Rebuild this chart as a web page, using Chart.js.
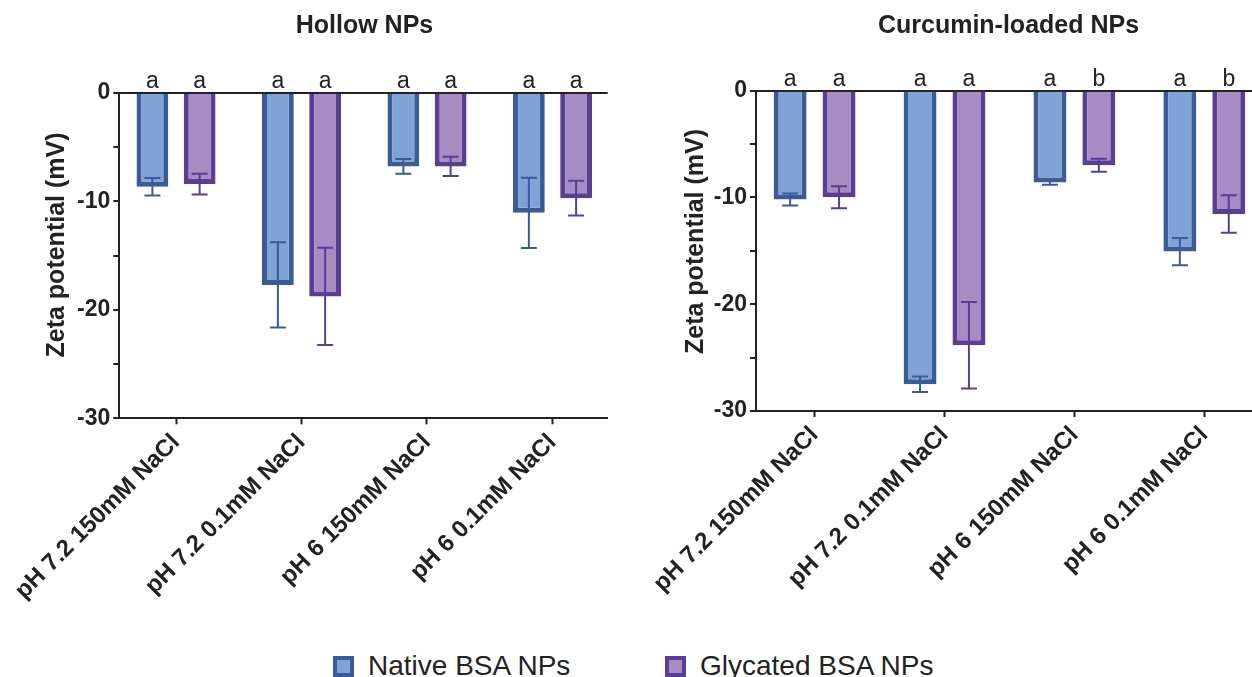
<!DOCTYPE html>
<html>
<head>
<meta charset="utf-8">
<script src="https://cdn.jsdelivr.net/npm/chart.js@4.4.1/dist/chart.umd.min.js"></script>
<style>
  html, body { margin: 0; padding: 0; background: #fff; }
  body { width: 1252px; height: 677px; position: relative; overflow: hidden;
         font-family: "Liberation Sans", Arial, Helvetica, sans-serif; }
  #c1 { position: absolute; left: 0; top: 0; }
  #c2 { position: absolute; left: 620px; top: 0; }
  .leg { position: absolute; top: 652px; height: 28px; display: flex; align-items: center;
         font-size: 28px; color: #222; white-space: nowrap; }
  .box { width: 13px; height: 13px; border: 4px solid; margin-right: 14px; }
</style>
</head>
<body>
<canvas id="c1" width="620" height="640"></canvas>
<canvas id="c2" width="632" height="640"></canvas>
<div class="leg" style="left:333px"><span class="box" style="background:#80A3D7;border-color:#3A5B98"></span><span id="lg1"></span></div>
<div class="leg" style="left:665px"><span class="box" style="background:#A78BC3;border-color:#5A3E93"></span><span id="lg2"></span></div>
<script>
// ---------- data ----------
const categories = ['pH 7.2 150mM NaCl', 'pH 7.2 0.1mM NaCl', 'pH 6 150mM NaCl', 'pH 6 0.1mM NaCl'];
const seriesNames = ['Native BSA NPs', 'Glycated BSA NPs'];
const panelTitles = ['Hollow NPs', 'Curcumin-loaded NPs'];
const yAxisTitle = 'Zeta potential (mV)';

const hollowNative = [-8.65, -17.7, -6.77, -11.05];
const hollowNativeErr = [0.8, 3.93, 0.68, 3.24];
const hollowGlycated = [-8.4, -18.76, -6.77, -9.7];
const hollowGlycatedErr = [0.95, 4.49, 0.88, 1.6];

const curcNative = [-10.2, -27.5, -8.6, -15.07];
const curcNativeErr = [0.56, 0.73, 0.2, 1.27];
const curcGlycated = [-9.98, -23.84, -6.98, -11.55];
const curcGlycatedErr = [1.02, 4.06, 0.6, 1.75];

const hollowLettersNative = ['a', 'a', 'a', 'a'];
const hollowLettersGlycated = ['a', 'a', 'a', 'a'];
const curcLettersNative = ['a', 'a', 'a', 'a'];
const curcLettersGlycated = ['a', 'a', 'b', 'b'];

const yTickValues = [0, -10, -20, -30];

// ---------- styling ----------
const FONT = '"Liberation Sans", Arial, Helvetica, sans-serif';
const INK = '#222222';
const nativeFill = '#80A3D7', nativeBorder = '#3A5B98';
const glycFill = '#A78BC3', glycBorder = '#5A3E93';

document.getElementById('lg1').textContent = seriesNames[0];
document.getElementById('lg2').textContent = seriesNames[1];

const toXY = arr => arr.map((v, i) => ({ x: i, y: v }));

const decor = {
  id: 'decor',
  afterDatasetsDraw(chart) {
    const ctx = chart.ctx, ys = chart.scales.y;
    chart.data.datasets.forEach((ds, di) => {
      const meta = chart.getDatasetMeta(di);
      meta.data.forEach((bar, i) => {
        const v = ds.data[i].y, e = ds.errors[i];
        const yA = ys.getPixelForValue(v + e), yB = ys.getPixelForValue(v - e);
        ctx.save();
        ctx.strokeStyle = ds.borderColor;
        ctx.lineWidth = 2;
        ctx.beginPath();
        ctx.moveTo(bar.x, yA); ctx.lineTo(bar.x, yB);
        ctx.moveTo(bar.x - 8, yA); ctx.lineTo(bar.x + 8, yA);
        ctx.moveTo(bar.x - 8, yB); ctx.lineTo(bar.x + 8, yB);
        ctx.stroke();
        ctx.fillStyle = INK;
        ctx.font = '23px ' + FONT;
        ctx.textAlign = 'center';
        ctx.textBaseline = 'alphabetic';
        ctx.fillText(ds.letters[i], bar.x, chart.chartArea.top - 5);
        ctx.restore();
      });
    });
  },
  afterDraw(chart, args, opts) {
    const ctx = chart.ctx;
    ctx.save();
    ctx.fillStyle = INK;
    ctx.font = 'bold 25px ' + FONT;
    ctx.textAlign = 'center';
    ctx.textBaseline = 'middle';
    ctx.fillText(opts.title, opts.titleX, opts.titleY);
    ctx.translate(opts.yTitleX, opts.yTitleY);
    ctx.rotate(-Math.PI / 2);
    ctx.fillText(opts.yTitle, 0, 0);
    ctx.restore();
  }
};

function makePanel(id, nat, natErr, gly, glyErr, letN, letG, cfg) {
  return new Chart(document.getElementById(id), {
    type: 'bar',
    data: {
      datasets: [
        { label: seriesNames[0], data: toXY(nat), errors: natErr, letters: letN,
          backgroundColor: nativeFill, borderColor: nativeBorder, borderWidth: 5, borderSkipped: 'start' },
        { label: seriesNames[1], data: toXY(gly), errors: glyErr, letters: letG,
          backgroundColor: glycFill, borderColor: glycBorder, borderWidth: 5, borderSkipped: 'start' }
      ]
    },
    options: {
      responsive: false,
      animation: false,
      devicePixelRatio: 1,
      categoryPercentage: 0.753,
      barPercentage: 0.673,
      layout: { padding: { top: cfg.top, right: cfg.right, left: 0, bottom: 0 } },
      plugins: {
        legend: { display: false },
        tooltip: { enabled: false },
        decor: { title: cfg.title, titleX: cfg.titleX, titleY: 26,
                 yTitle: yAxisTitle, yTitleX: cfg.yTitleX, yTitleY: cfg.yTitleY }
      },
      scales: {
        x: {
          type: 'linear', min: cfg.xmin, max: cfg.xmax, offset: false,
          grid: { display: true, offset: false, drawOnChartArea: false, drawTicks: true, tickLength: 6,
                  tickWidth: 2, tickColor: INK, color: INK },
          border: { display: true, color: INK, width: 2 },
          ticks: { stepSize: 1, includeBounds: false, autoSkip: false, maxRotation: 45, minRotation: 45,
                   padding: 4, color: INK, font: { family: FONT, size: 24, weight: 'bold' },
                   callback: v => (categories[v] !== undefined ? categories[v] : '') },
          afterFit: s => { s.height = cfg.xh; }
        },
        y: {
          min: -30, max: 0, z: 1,
          ticks: { stepSize: 5, padding: 3, color: INK, font: { family: FONT, size: 23, weight: 'bold' },
                   callback: v => (yTickValues.includes(v) ? String(v) : '') },
          grid: { drawOnChartArea: true, lineWidth: 2, tickLength: 6, tickWidth: 2, tickColor: INK,
                  color: c => (c.tick && c.tick.value === 0 ? INK : 'rgba(0,0,0,0)') },
          border: { display: true, color: INK, width: 2 },
          afterFit: s => { s.width = cfg.yw; }
        }
      }
    },
    plugins: [decor]
  });
}

makePanel('c1', hollowNative, hollowNativeErr, hollowGlycated, hollowGlycatedErr,
  hollowLettersNative, hollowLettersGlycated,
  { top: 93, right: 12.3, xh: 221.7, yw: 119.3, xmin: -0.452, xmax: 3.44,
    title: panelTitles[0], titleX: 364.5, yTitleX: 57.5, yTitleY: 245 });

makePanel('c2', curcNative, curcNativeErr, curcGlycated, curcGlycatedErr,
  curcLettersNative, curcLettersGlycated,
  { top: 90.7, right: 0, xh: 229, yw: 136, xmin: -0.451, xmax: 3.367,
    title: panelTitles[1], titleX: 388.5, yTitleX: 76.5, yTitleY: 241.5 });
</script>
</body>
</html>
